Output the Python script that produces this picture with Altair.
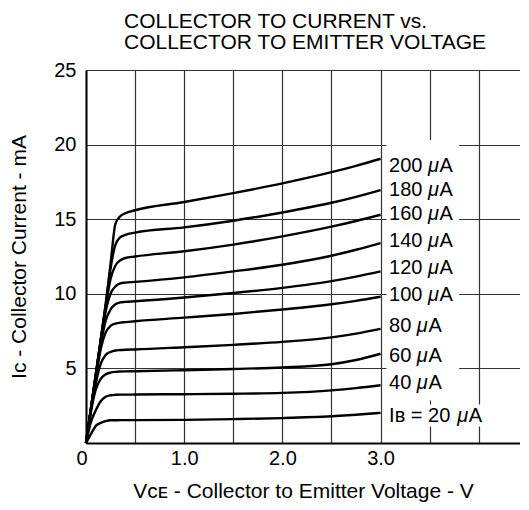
import altair as alt
import pandas as pd

# ---- data ----
vce = [0, 0.05, 0.1, 0.15, 0.2, 0.25, 0.3, 0.35, 0.4, 0.5, 1.0, 1.5, 2.0, 2.5, 2.75, 3.0]
ib_ua = [200, 180, 160, 140, 120, 100, 80, 60, 40, 20]
ic_200 = [0, 2.3, 4.6, 6.9, 9.3, 12.0, 14.7, 15.2, 15.4, 15.6, 16.15, 16.75, 17.4, 18.15, 18.58, 19.05]
ic_180 = [0, 2.3, 4.6, 6.9, 9.2, 11.7, 13.3, 13.8, 13.95, 14.1, 14.45, 14.9, 15.45, 16.1, 16.5, 16.95]
ic_160 = [0, 2.3, 4.6, 6.9, 9.1, 11.0, 11.9, 12.25, 12.4, 12.5, 12.85, 13.3, 13.85, 14.5, 14.88, 15.3]
ic_140 = [0, 2.3, 4.5, 6.8, 8.8, 10.0, 10.5, 10.7, 10.75, 10.8, 11.1, 11.5, 11.95, 12.55, 12.95, 13.4]
ic_120 = [0, 2.2, 4.4, 6.6, 8.2, 8.95, 9.3, 9.42, 9.46, 9.5, 9.75, 10.05, 10.4, 10.85, 11.15, 11.5]
ic_100 = [0, 2.2, 4.3, 6.3, 7.4, 7.85, 8.0, 8.07, 8.1, 8.16, 8.4, 8.65, 8.95, 9.3, 9.53, 9.8]
ic_80 = [0, 2.2, 4.0, 5.3, 5.9, 6.1, 6.2, 6.23, 6.25, 6.27, 6.42, 6.58, 6.78, 7.08, 7.33, 7.65]
ic_60 = [0, 2.1, 3.6, 4.3, 4.6, 4.72, 4.77, 4.79, 4.8, 4.81, 4.88, 4.96, 5.06, 5.28, 5.56, 5.98]
ic_40 = [0, 1.4, 2.2, 2.8, 3.1, 3.2, 3.23, 3.24, 3.24, 3.25, 3.27, 3.3, 3.36, 3.53, 3.68, 3.87]
ic_20 = [0, 0.6, 1.15, 1.35, 1.47, 1.52, 1.52, 1.53, 1.53, 1.53, 1.55, 1.6, 1.67, 1.79, 1.89, 2.02]
curves = [ic_200, ic_180, ic_160, ic_140, ic_120, ic_100, ic_80, ic_60, ic_40, ic_20]

label_num = ["200", "180", "160", "140", "120", "100", "80", "60", "40", "I\u0299 = 20"]
label_ic = [18.55, 16.99, 15.38, 13.53, 11.7, 9.95, 7.81, 5.86, 3.99, 1.84]
label_vce = 3.0

# white boxes behind the labels (data units)
box_v0 = [3.06, 3.06]
box_v1 = [3.80, 4.03]
box_i0 = [2.85, 1.11]
box_i1 = [20.3, 2.58]

title_lines = ["COLLECTOR TO CURRENT vs.", "COLLECTOR TO EMITTER VOLTAGE"]
x_title = "V\u1d04\u1d07 - Collector to Emitter Voltage - V"
y_title = "I\u1d04 - Collector Current - mA"
x_grid_values = [0, 0.5, 1.0, 1.5, 2.0, 2.5, 3.0, 3.5, 4.0]
y_values = [5, 10, 15, 20, 25]

FONT = "Liberation Sans, Arial, Helvetica, sans-serif"
FS_LABEL = 20

rows = []
for ib, ics in zip(ib_ua, curves):
    for v, i in zip(vce, ics):
        rows.append({"vce": v, "ic": i, "ib": ib})
df = pd.DataFrame(rows)

xscale = alt.Scale(domain=[0, 4.42], nice=False, zero=False)
yscale = alt.Scale(domain=[0, 25], nice=False, zero=False)

lines = alt.Chart(df).mark_line(color="black", strokeWidth=2.4, interpolate="monotone").encode(
    x=alt.X("vce:Q", scale=xscale,
            axis=alt.Axis(values=x_grid_values, title=x_title,
                          labelExpr="datum.value == 0 ? '0' : (datum.value == 1 || datum.value == 2 || datum.value == 3) ? format(datum.value, '.1f') : ''",
                          labelOffset={"condition": {"test": "datum.value == 0", "value": -10}, "value": 0},
                          labelPadding=5, titlePadding=12)),
    y=alt.Y("ic:Q", scale=yscale,
            axis=alt.Axis(values=y_values, title=y_title, labelPadding=10, titlePadding=24)),
    detail="ib:N",
)

boxes_df = pd.DataFrame({"vce": box_v0, "vce2": box_v1, "ic": box_i0, "ic2": box_i1})
boxes = alt.Chart(boxes_df).mark_rect(color="white").encode(
    x=alt.X("vce:Q", scale=xscale), x2="vce2:Q",
    y=alt.Y("ic:Q", scale=yscale), y2="ic2:Q",
)

W = {" ": 0.278, "I": 0.278, "=": 0.584, "\u0299": 0.6, "\u03bc": 0.576, "A": 0.667}
def tw(s, fs):
    return sum(W.get(c, 0.556) for c in s) * fs

texts = []
base_dx = 8.5
for num, ic in zip(label_num, label_ic):
    d = pd.DataFrame({"vce": [label_vce], "ic": [ic]})
    parts = [(num + " ", "normal"), ("\u03bc", "italic"), ("A", "normal")]
    off = base_dx
    for txt, style in parts:
        t = alt.Chart(d).mark_text(text=txt.strip(), align="left", baseline="middle",
                                   dx=off, fontSize=FS_LABEL, font=FONT, fontStyle=style,
                                   color="black").encode(
            x=alt.X("vce:Q", scale=xscale),
            y=alt.Y("ic:Q", scale=yscale),
        )
        texts.append(t)
        off += tw(txt, FS_LABEL)

chart = alt.layer(boxes, lines, *texts).properties(
    width=434, height=373,
    title=alt.TitleParams(title_lines, anchor="start", frame="group", dx=38, offset=7,
                          fontSize=21, font=FONT, fontWeight="normal", color="black", lineHeight=21.5),
    padding={"left": 78, "top": 62, "right": 0, "bottom": 59},
    autosize=alt.AutoSizeParams(type="none"),
).configure_view(stroke=None).configure_axis(
    labelFont=FONT, labelFontSize=20, labelColor="black",
    titleFont=FONT, titleFontSize=21, titleFontWeight="normal", titleColor="black",
    ticks=False, domainColor="black", domainWidth=2,
    grid=True, gridWidth=1.2, gridColor="#333333",
)

chart.save("out.html", embed_options={"renderer": "svg", "actions": False})
